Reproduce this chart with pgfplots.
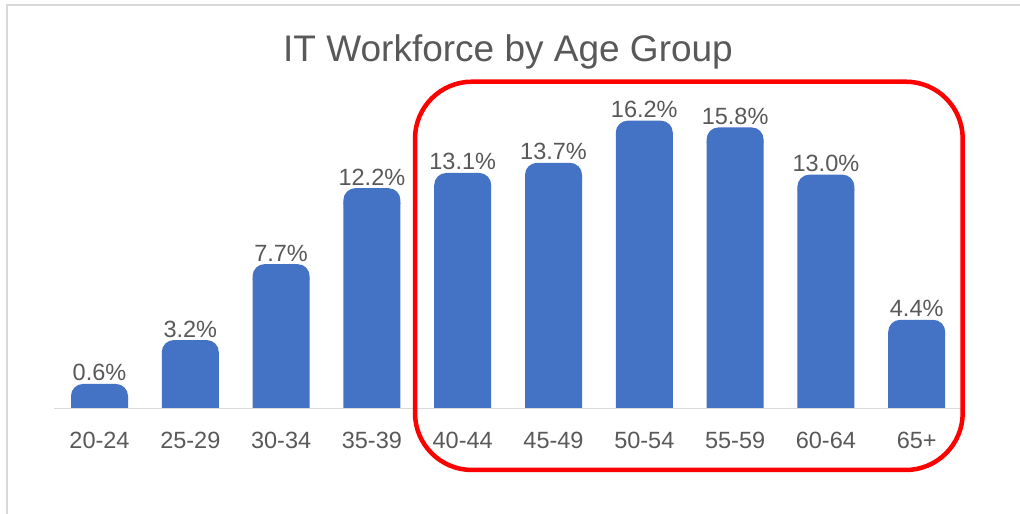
\documentclass[border=0pt]{standalone}
\usepackage{pgfplots}
\pgfplotsset{compat=1.18}
\usepackage{pgfplotstable}
\usepackage{fontspec}
\setmainfont{Liberation Sans}
\definecolor{barblue}{HTML}{4472C4}
\definecolor{txtgray}{HTML}{595959}
\definecolor{axgray}{HTML}{D9D9D9}
% rounded top cap of each bar
\pgfdeclareplotmark{cap}{%
  \pgfpathmoveto{\pgfpoint{-28.5pt}{-1pt}}%
  \pgfpathlineto{\pgfpoint{-28.5pt}{2.6pt}}%
  \pgfpatharc{180}{90}{12pt}%
  \pgfpathlineto{\pgfpoint{16.5pt}{14.6pt}}%
  \pgfpatharc{90}{0}{12pt}%
  \pgfpathlineto{\pgfpoint{28.5pt}{-1pt}}%
  \pgfpathclose
  \pgfusepathqfill}
\pgfplotstableread{
x v
0 0.6
1 3.2
2 7.7
3 12.2
4 13.1
5 13.7
6 16.2
7 15.8
8 13.0
9 4.4
}\agedata
\begin{document}
\begin{tikzpicture}
\useasboundingbox (0,0) rectangle (1020pt,514pt);
\fill[white] (0,0) rectangle (1020pt,514pt);
\draw[axgray, line width=2pt] (7pt,0pt) -- (7pt,509pt) -- (1020pt,509pt);
\node[anchor=base, font=\fontsize{37}{41}\selectfont, text=txtgray, inner sep=0pt] at (508pt,452pt) {IT Workforce by Age Group};
\begin{axis}[
  at={(54.1pt,105.3pt)}, anchor=south west,
  scale only axis, width=908pt, height=303.84pt,
  xmin=-0.5, xmax=9.5, ymin=0, ymax=18,
  axis x line*=bottom, axis y line=none,
  x axis line style={axgray, line width=1.5pt, -},
  xtick={0,1,2,3,4,5,6,7,8,9},
  xticklabels={20-24,25-29,30-34,35-39,40-44,45-49,50-54,55-59,60-64,65+},
  major tick length=0pt,
  xticklabel style={anchor=base, yshift=-40pt, inner sep=0pt, font=\fontsize{23.5}{27}\selectfont, text=txtgray},
  axis on top,
  clip=false,
  /pgf/number format/assume math mode=true,
]
\addplot[ybar, bar width=57pt, bar shift=0pt, fill=barblue, draw=none] table[x=x, y=v] {\agedata};
\addplot[only marks, mark=cap, mark options={fill=barblue, draw=none},
  point meta=y,
  nodes near coords={\pgfmathprintnumber[fixed,fixed zerofill,precision=1]{\pgfplotspointmeta}\%},
  nodes near coords style={anchor=base, yshift=17.6pt, inner sep=0pt, font=\fontsize{23.5}{27}\selectfont, text=txtgray}]
  table[x=x, y=v] {\agedata};
\end{axis}
\draw[red, line width=4.5pt, rounded corners=57pt] (415pt,432.3pt) rectangle (962.7pt,44pt);
\end{tikzpicture}
\end{document}
